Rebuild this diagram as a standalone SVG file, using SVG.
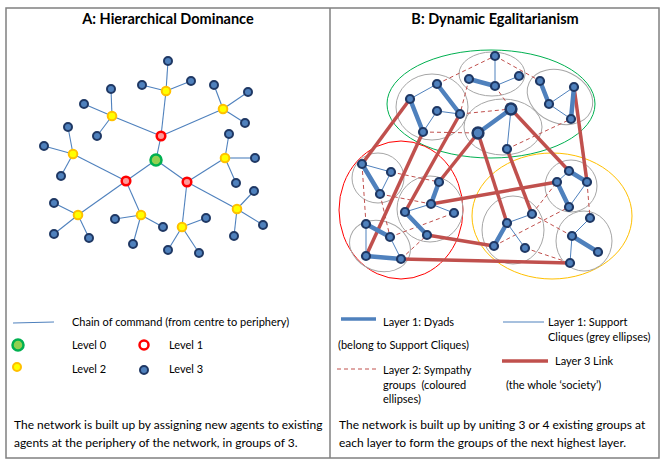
<svg xmlns="http://www.w3.org/2000/svg" width="668" height="467" viewBox="0 0 668 467">
<style>
text{font-family:Lato,"Liberation Sans",sans-serif;fill:#000}
.t{font-size:14.5px;font-weight:bold;text-anchor:middle}
.lg{font-size:11px}
.bt{font-size:12px}
.e{stroke:#4f81bd;stroke-width:1.1;fill:none}
.n3{fill:#4f81bd;stroke:#1f3864;stroke-width:2}
.n2{fill:#ffff00;stroke:#ffc000;stroke-width:2}
.n1{fill:#ff9999;stroke:#ff0000;stroke-width:2.5}
.n0{fill:#92d050;stroke:#00b050;stroke-width:2.5}
.dy{stroke:#4f81bd;stroke-width:4.5;stroke-linecap:round}
.th{stroke:#4f81bd;stroke-width:1}
.l3{stroke:#c0504d;stroke-width:3.5}
.l2{stroke:#c0504d;stroke-width:1;stroke-dasharray:4 3}
.cl{fill:none;stroke:#a6a6a6;stroke-width:1}
.rn{fill:#4f81bd;stroke:#1f3864;stroke-width:2.2}
.big{fill:#4f81bd;stroke:#1f3864;stroke-width:2.5}
</style>
<rect x="0" y="0" width="668" height="467" fill="#fff"/>
<g id="frame" fill="none" stroke="#808080" stroke-width="1.5">
<rect x="6" y="8" width="653" height="450"/>
<line x1="330" y1="8" x2="330" y2="458"/>
</g>
<text class="t" x="168" y="24">A: Hierarchical Dominance</text>
<text class="t" x="495" y="24">B: Dynamic Egalitarianism</text>

<!-- Panel A connectors -->
<g id="connectorsA" class="e">
<line x1="156" y1="160" x2="161" y2="136"/><line x1="156" y1="160" x2="126" y2="181"/><line x1="156" y1="160" x2="187" y2="182"/>
<line x1="161" y1="136" x2="166" y2="91"/><line x1="161" y1="136" x2="112" y2="116"/><line x1="161" y1="136" x2="223" y2="109"/>
<line x1="166" y1="91" x2="168" y2="61"/><line x1="166" y1="91" x2="142" y2="85"/><line x1="166" y1="91" x2="191" y2="81"/>
<line x1="112" y1="116" x2="111" y2="89"/><line x1="112" y1="116" x2="84" y2="104"/><line x1="112" y1="116" x2="97" y2="136"/>
<line x1="223" y1="109" x2="214" y2="85"/><line x1="223" y1="109" x2="248" y2="92"/><line x1="223" y1="109" x2="245" y2="123"/>
<line x1="126" y1="181" x2="73" y2="154"/><line x1="126" y1="181" x2="78" y2="215"/><line x1="126" y1="181" x2="141" y2="215"/>
<line x1="73" y1="154" x2="68" y2="127"/><line x1="73" y1="154" x2="44" y2="146"/><line x1="73" y1="154" x2="61" y2="176"/>
<line x1="78" y1="215" x2="54" y2="203"/><line x1="78" y1="215" x2="54" y2="234"/><line x1="78" y1="215" x2="89" y2="238"/>
<line x1="141" y1="215" x2="115" y2="219"/><line x1="141" y1="215" x2="163" y2="227"/><line x1="141" y1="215" x2="133" y2="244"/>
<line x1="187" y1="182" x2="225" y2="158"/><line x1="187" y1="182" x2="237" y2="209"/><line x1="187" y1="182" x2="182" y2="227"/>
<line x1="225" y1="158" x2="229" y2="134"/><line x1="225" y1="158" x2="255" y2="158"/><line x1="225" y1="158" x2="236" y2="183"/>
<line x1="237" y1="209" x2="254" y2="191"/><line x1="237" y1="209" x2="263" y2="225"/><line x1="237" y1="209" x2="234" y2="236"/>
<line x1="182" y1="227" x2="206" y2="218"/><line x1="182" y1="227" x2="168" y2="250"/><line x1="182" y1="227" x2="199" y2="253"/>
</g>
<!-- Panel A nodes -->
<g id="A-L0"><circle class="n0" cx="156" cy="160" r="5.5"/></g>
<g id="A-L1a"><circle class="n1" cx="161" cy="136" r="4.3"/></g>
<g id="A-L1b"><circle class="n1" cx="126" cy="181" r="4.3"/></g>
<g id="A-L1c"><circle class="n1" cx="187" cy="182" r="4.3"/></g>
<g id="A-L2a"><circle class="n2" cx="166" cy="91" r="4.3"/></g>
<g id="A-L2b"><circle class="n2" cx="112" cy="116" r="4.3"/></g>
<g id="A-L2c"><circle class="n2" cx="223" cy="109" r="4.3"/></g>
<g id="A-L2d"><circle class="n2" cx="73" cy="154" r="4.3"/></g>
<g id="A-L2e"><circle class="n2" cx="78" cy="215" r="4.3"/></g>
<g id="A-L2f"><circle class="n2" cx="141" cy="215" r="4.3"/></g>
<g id="A-L2g"><circle class="n2" cx="225" cy="158" r="4.3"/></g>
<g id="A-L2h"><circle class="n2" cx="237" cy="209" r="4.3"/></g>
<g id="A-L2i"><circle class="n2" cx="182" cy="227" r="4.3"/></g>
<g id="A-L3-01"><circle class="n3" cx="168" cy="61" r="4"/></g>
<g id="A-L3-02"><circle class="n3" cx="142" cy="85" r="4"/></g>
<g id="A-L3-03"><circle class="n3" cx="191" cy="81" r="4"/></g>
<g id="A-L3-04"><circle class="n3" cx="111" cy="89" r="4"/></g>
<g id="A-L3-05"><circle class="n3" cx="84" cy="104" r="4"/></g>
<g id="A-L3-06"><circle class="n3" cx="97" cy="136" r="4"/></g>
<g id="A-L3-07"><circle class="n3" cx="214" cy="85" r="4"/></g>
<g id="A-L3-08"><circle class="n3" cx="248" cy="92" r="4"/></g>
<g id="A-L3-09"><circle class="n3" cx="245" cy="123" r="4"/></g>
<g id="A-L3-10"><circle class="n3" cx="68" cy="127" r="4"/></g>
<g id="A-L3-11"><circle class="n3" cx="44" cy="146" r="4"/></g>
<g id="A-L3-12"><circle class="n3" cx="61" cy="176" r="4"/></g>
<g id="A-L3-13"><circle class="n3" cx="54" cy="203" r="4"/></g>
<g id="A-L3-14"><circle class="n3" cx="54" cy="234" r="4"/></g>
<g id="A-L3-15"><circle class="n3" cx="89" cy="238" r="4"/></g>
<g id="A-L3-16"><circle class="n3" cx="115" cy="219" r="4"/></g>
<g id="A-L3-17"><circle class="n3" cx="163" cy="227" r="4"/></g>
<g id="A-L3-18"><circle class="n3" cx="133" cy="244" r="4"/></g>
<g id="A-L3-19"><circle class="n3" cx="229" cy="134" r="4"/></g>
<g id="A-L3-20"><circle class="n3" cx="255" cy="158" r="4"/></g>
<g id="A-L3-21"><circle class="n3" cx="236" cy="183" r="4"/></g>
<g id="A-L3-22"><circle class="n3" cx="254" cy="191" r="4"/></g>
<g id="A-L3-23"><circle class="n3" cx="263" cy="225" r="4"/></g>
<g id="A-L3-24"><circle class="n3" cx="234" cy="236" r="4"/></g>
<g id="A-L3-25"><circle class="n3" cx="206" cy="218" r="4"/></g>
<g id="A-L3-26"><circle class="n3" cx="168" cy="250" r="4"/></g>
<g id="A-L3-27"><circle class="n3" cx="199" cy="253" r="4"/></g>

<!-- Panel A legend -->
<g id="legendA">
<line class="e" x1="13" y1="323" x2="54" y2="322"/>
<text class="lg" x="72" y="326">Chain of command (from centre to periphery)</text>
<circle class="n0" cx="18" cy="345" r="5.5"/>
<text class="lg" x="72" y="349">Level 0</text>
<circle cx="144" cy="345" r="4.5" fill="#fff" stroke="#ff0000" stroke-width="2.5"/>
<text class="lg" x="169" y="349">Level 1</text>
<circle class="n2" cx="17" cy="367" r="4"/>
<text class="lg" x="72" y="373">Level 2</text>
<circle class="n3" cx="144" cy="370" r="4"/>
<text class="lg" x="169" y="373">Level 3</text>
<text class="bt" x="14" y="429">The network is built up by assigning new agents to existing</text>
<text class="bt" x="14" y="447">agents at the periphery of the network, in groups of 3.</text>
</g>

<!-- Panel B groups (ellipses) -->
<g id="groupsB">
<ellipse id="sym-green" cx="491" cy="104" rx="104" ry="54" fill="none" stroke="#00b050" stroke-width="1"/>
<ellipse id="sym-red" cx="401" cy="210" rx="62" ry="69" fill="none" stroke="#ff0000" stroke-width="1"/>
<ellipse id="sym-yellow" cx="552" cy="216" rx="80" ry="63" fill="none" stroke="#ffc000" stroke-width="1"/>
<ellipse class="cl" cx="432" cy="107" rx="36" ry="33"/>
<ellipse class="cl" cx="492" cy="74" rx="33" ry="22"/>
<ellipse class="cl" cx="560" cy="97" rx="34" ry="26" transform="rotate(25 560 97)"/>
<ellipse class="cl" cx="503" cy="127" rx="39" ry="28"/>
<ellipse class="cl" cx="378" cy="178" rx="26" ry="25"/>
<ellipse class="cl" cx="430" cy="209" rx="33" ry="33"/>
<ellipse class="cl" cx="380" cy="246" rx="31" ry="25" transform="rotate(20 380 246)"/>
<ellipse class="cl" cx="513" cy="230" rx="31" ry="34"/>
<ellipse class="cl" cx="571" cy="186" rx="26" ry="26"/>
<ellipse class="cl" cx="584" cy="241" rx="28" ry="30"/>
</g>

<!-- Panel B connectors -->
<g id="connectorsB">
<g class="l2">
<line x1="437" y1="84" x2="495" y2="56"/>
<line x1="495" y1="56" x2="540" y2="81"/>
<line x1="469" y1="79" x2="460" y2="114"/>
<line x1="460" y1="114" x2="511" y2="109"/>
<line x1="495" y1="86" x2="511" y2="109"/>
<line x1="423" y1="132" x2="478" y2="133"/>
<line x1="507" y1="149" x2="571" y2="119"/>
<line x1="362" y1="164" x2="366" y2="224"/>
<line x1="380" y1="194" x2="390" y2="237"/>
<line x1="391" y1="172" x2="439" y2="182"/>
<line x1="380" y1="194" x2="431" y2="204"/>
<line x1="390" y1="237" x2="454" y2="213"/>
<line x1="401" y1="259" x2="427" y2="235"/>
<line x1="532" y1="214" x2="557" y2="182"/>
<line x1="494" y1="246" x2="569" y2="207"/>
<line x1="532" y1="214" x2="572" y2="236"/>
<line x1="525" y1="248" x2="570" y2="263"/>
<line x1="587" y1="182" x2="590" y2="218"/>
</g>
<g class="l3">
<line x1="410" y1="99" x2="362" y2="164"/>
<line x1="423" y1="132" x2="366" y2="256"/>
<line x1="460" y1="114" x2="405" y2="212"/>
<line x1="478" y1="133" x2="439" y2="182"/>
<line x1="478" y1="133" x2="507" y2="223"/>
<line x1="507" y1="149" x2="532" y2="214"/>
<line x1="511" y1="109" x2="569" y2="171"/>
<line x1="574" y1="87" x2="587" y2="182"/>
<line x1="431" y1="204" x2="557" y2="182"/>
<line x1="427" y1="235" x2="494" y2="246"/>
<line x1="401" y1="259" x2="570" y2="263"/>
</g>
<g class="th">
<line x1="410" y1="99" x2="437" y2="84"/><line x1="437" y1="111" x2="460" y2="114"/><line x1="437" y1="111" x2="423" y2="132"/>
<line x1="495" y1="56" x2="495" y2="86"/><line x1="495" y1="86" x2="519" y2="76"/>
<line x1="549" y1="104" x2="574" y2="87"/><line x1="549" y1="104" x2="571" y2="119"/>
<line x1="511" y1="109" x2="507" y2="149"/>
<line x1="362" y1="164" x2="391" y2="172"/><line x1="391" y1="172" x2="380" y2="194"/>
<line x1="431" y1="204" x2="405" y2="212"/><line x1="431" y1="204" x2="454" y2="213"/>
<line x1="366" y1="224" x2="366" y2="256"/><line x1="390" y1="237" x2="401" y2="259"/>
<line x1="507" y1="223" x2="532" y2="214"/><line x1="507" y1="223" x2="525" y2="248"/>
<line x1="569" y1="171" x2="557" y2="182"/><line x1="587" y1="182" x2="569" y2="207"/>
<line x1="590" y1="218" x2="572" y2="236"/><line x1="572" y1="236" x2="570" y2="263"/>
</g>
<g class="dy">
<line x1="437" y1="84" x2="460" y2="114"/><line x1="410" y1="99" x2="423" y2="132"/>
<line x1="469" y1="79" x2="495" y2="86"/>
<line x1="540" y1="81" x2="549" y2="104"/><line x1="574" y1="87" x2="571" y2="119"/>
<line x1="511" y1="109" x2="478" y2="133"/>
<line x1="362" y1="164" x2="380" y2="194"/>
<line x1="439" y1="182" x2="431" y2="204"/><line x1="405" y1="212" x2="427" y2="235"/>
<line x1="366" y1="224" x2="390" y2="237"/><line x1="366" y1="256" x2="401" y2="259"/>
<line x1="507" y1="223" x2="494" y2="246"/>
<line x1="569" y1="171" x2="587" y2="182"/><line x1="557" y1="182" x2="569" y2="207"/>
<line x1="572" y1="236" x2="598" y2="252"/>
</g>
</g>

<!-- Panel B nodes -->
<g id="B-a1"><circle class="rn" cx="410" cy="99" r="4"/></g>
<g id="B-a2"><circle class="rn" cx="437" cy="84" r="4"/></g>
<g id="B-a3"><circle class="rn" cx="437" cy="111" r="4"/></g>
<g id="B-a4"><circle class="rn" cx="460" cy="114" r="4"/></g>
<g id="B-a5"><circle class="rn" cx="423" cy="132" r="4"/></g>
<g id="B-b1"><circle class="rn" cx="495" cy="56" r="4"/></g>
<g id="B-b2"><circle class="rn" cx="469" cy="79" r="4"/></g>
<g id="B-b3"><circle class="rn" cx="495" cy="86" r="4"/></g>
<g id="B-b4"><circle class="rn" cx="519" cy="76" r="4"/></g>
<g id="B-c1"><circle class="rn" cx="540" cy="81" r="4"/></g>
<g id="B-c2"><circle class="rn" cx="549" cy="104" r="4"/></g>
<g id="B-c3"><circle class="rn" cx="574" cy="87" r="4"/></g>
<g id="B-c4"><circle class="rn" cx="571" cy="119" r="4"/></g>
<g id="B-d1"><circle class="big" cx="511" cy="109" r="5.4"/></g>
<g id="B-d2"><circle class="big" cx="478" cy="133" r="5.4"/></g>
<g id="B-d3"><circle class="rn" cx="507" cy="149" r="4"/></g>
<g id="B-e1"><circle class="rn" cx="362" cy="164" r="4"/></g>
<g id="B-e2"><circle class="rn" cx="391" cy="172" r="4"/></g>
<g id="B-e3"><circle class="rn" cx="380" cy="194" r="4"/></g>
<g id="B-f1"><circle class="rn" cx="439" cy="182" r="4"/></g>
<g id="B-f2"><circle class="rn" cx="431" cy="204" r="4"/></g>
<g id="B-f3"><circle class="rn" cx="405" cy="212" r="4"/></g>
<g id="B-f4"><circle class="rn" cx="454" cy="213" r="4"/></g>
<g id="B-f5"><circle class="rn" cx="427" cy="235" r="4"/></g>
<g id="B-g1"><circle class="rn" cx="366" cy="224" r="4"/></g>
<g id="B-g2"><circle class="rn" cx="390" cy="237" r="4"/></g>
<g id="B-g3"><circle class="rn" cx="366" cy="256" r="4"/></g>
<g id="B-g4"><circle class="rn" cx="401" cy="259" r="4"/></g>
<g id="B-h1"><circle class="rn" cx="507" cy="223" r="4"/></g>
<g id="B-h2"><circle class="rn" cx="532" cy="214" r="4"/></g>
<g id="B-h3"><circle class="rn" cx="494" cy="246" r="4"/></g>
<g id="B-h4"><circle class="rn" cx="525" cy="248" r="4"/></g>
<g id="B-i1"><circle class="rn" cx="569" cy="171" r="4"/></g>
<g id="B-i2"><circle class="rn" cx="557" cy="182" r="4"/></g>
<g id="B-i3"><circle class="rn" cx="587" cy="182" r="4"/></g>
<g id="B-i4"><circle class="rn" cx="569" cy="207" r="4"/></g>
<g id="B-j1"><circle class="rn" cx="590" cy="218" r="4"/></g>
<g id="B-j2"><circle class="rn" cx="572" cy="236" r="4"/></g>
<g id="B-j3"><circle class="rn" cx="598" cy="252" r="4"/></g>
<g id="B-j4"><circle class="rn" cx="570" cy="263" r="4"/></g>

<!-- Panel B legend -->
<g id="legendB">
<line x1="341" y1="319" x2="376" y2="319" stroke="#4f81bd" stroke-width="3.5"/>
<text class="lg" x="383" y="326">Layer 1: Dyads</text>
<text class="lg" x="338" y="349">(belong to Support Cliques)</text>
<line class="l2" x1="337" y1="369" x2="377" y2="369"/>
<text class="lg" x="383" y="374">Layer 2: Sympathy</text>
<text class="lg" x="383" y="389" xml:space="preserve">groups  (coloured</text>
<text class="lg" x="383" y="403">ellipses)</text>
<line class="th" x1="503" y1="322" x2="544" y2="322"/>
<text class="lg" x="548" y="326">Layer 1: Support</text>
<text class="lg" x="548" y="341">Cliques (grey ellipses)</text>
<line x1="502" y1="361" x2="548" y2="361" stroke="#c0504d" stroke-width="3.5"/>
<text class="lg" x="555" y="365">Layer 3 Link</text>
<text class="lg" x="506" y="389">(the whole ‘society’)</text>
<text class="bt" x="339" y="429">The network is built up by uniting 3 or 4 existing groups at</text>
<text class="bt" x="339" y="447">each layer to form the groups of the next highest layer.</text>
</g>
</svg>
